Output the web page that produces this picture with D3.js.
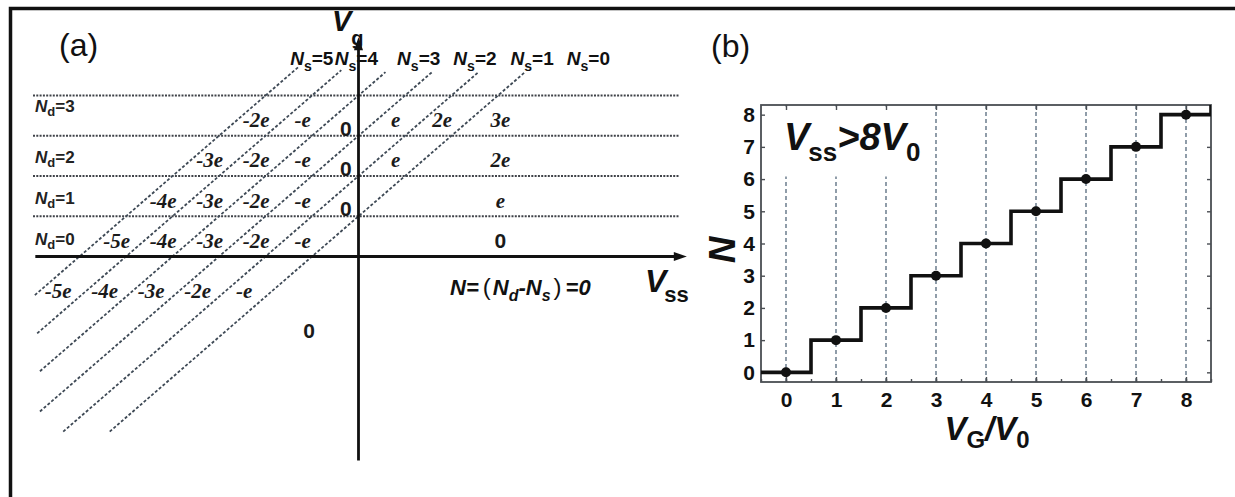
<!DOCTYPE html>
<html>
<head>
<meta charset="utf-8">
<script src="https://cdn.jsdelivr.net/npm/d3@7"></script>
<style>
  body { margin: 0; background: #fff; }
  svg { display: block; }
</style>
</head>
<body>
<svg id="fig" width="1235" height="497"></svg>
<script>
// ---------- Panel (a): charge states in the (Vss, Vg) plane ----------
// Source transition lines: Vg = Vss + k
const sourceLineK   = [1, 2, 3, 4, 5, 6];
const sourceLineLow = [-4.35, -4.35, -3.85, -2.85, -1.91, -0.96];   // lower Vg end of each line
const sourceLineHigh = [4.58, 4.58, 4.58, 4.58, 4.63, 4.71];        // upper Vg end of each line
// Drain transition levels (horizontal lines, Vg)
const drainLevels = [1, 2, 3, 4];
// Drain occupations labelled on the left, source occupations labelled on top
const ndValues = [3, 2, 1, 0];
const nsValues = [5, 4, 3, 2, 1, 0];

// ---------- Panel (b): staircase N vs VG/V0 ----------
const vgRatio = [0, 1, 2, 3, 4, 5, 6, 7, 8];
const electronN = [0, 1, 2, 3, 4, 5, 6, 7, 8];
const xTickValuesB = [0, 1, 2, 3, 4, 5, 6, 7, 8];
const yTickValuesB = [0, 1, 2, 3, 4, 5, 6, 7, 8];

const svg = d3.select("#fig");
const SANS = "'Liberation Sans', Arial, sans-serif";
const SERIF = "'Liberation Serif', 'Times New Roman', serif";
const INK = "#111";

svg.append("rect").attr("width", 1235).attr("height", 497).attr("fill", "#fff");

// outer frame (top and left edges)
svg.append("path")
  .attr("d", "M10.5,497 V8.5 H1235")
  .attr("fill", "none").attr("stroke", "#111").attr("stroke-width", 3.5);

// ===================== Panel (a) =====================
const xA = d3.scaleLinear().domain([0, 1]).range([358.5, 405]);
const yA = d3.scaleLinear().domain([0, 1]).range([256.5, 216.25]);
const gA = svg.append("g");

// drain levels (dotted horizontal lines)
gA.selectAll("line.nd").data(drainLevels).join("line")
  .attr("x1", xA(-7.0)).attr("x2", xA(6.91))
  .attr("y1", d => yA(d)).attr("y2", d => yA(d))
  .attr("stroke", "#3f4248").attr("stroke-width", 1.9)
  .attr("stroke-dasharray", "2,1.3");

// source lines (dashed diagonals)
gA.selectAll("line.ns").data(sourceLineK).join("line")
  .attr("x1", (k, i) => xA(sourceLineLow[i] - k)).attr("y1", (k, i) => yA(sourceLineLow[i]))
  .attr("x2", (k, i) => xA(sourceLineHigh[i] - k)).attr("y2", (k, i) => yA(sourceLineHigh[i]))
  .attr("stroke", "#3e4955").attr("stroke-width", 1.8)
  .attr("stroke-dasharray", "3,2");

// axes with arrows
gA.append("line")
  .attr("x1", xA(-6.95)).attr("x2", xA(6.95)).attr("y1", yA(0)).attr("y2", yA(0))
  .attr("stroke", INK).attr("stroke-width", 2.8);
gA.append("line")
  .attr("x1", xA(0)).attr("x2", xA(0)).attr("y1", yA(-5.07)).attr("y2", yA(5.3))
  .attr("stroke", INK).attr("stroke-width", 2.8);
{
  const tx = xA(7.06), ty = yA(0);
  gA.append("path").attr("d", `M${tx},${ty} L${tx - 13},${ty - 4.5} L${tx - 13},${ty + 4.5} Z`).attr("fill", INK);
  const vx = xA(0), vy = yA(5.45);
  gA.append("path").attr("d", `M${vx},${vy} L${vx - 4.5},${vy + 13} L${vx + 4.5},${vy + 13} Z`).attr("fill", INK);
}

// axis names
const vgLab = gA.append("text").attr("x", 332).attr("y", 31)
  .attr("font-family", SANS).attr("font-weight", "bold").attr("fill", INK);
vgLab.append("tspan").attr("font-size", 29).attr("font-style", "italic").text("V");
vgLab.append("tspan").attr("font-size", 20).attr("dy", 14).text("g");

const vssLab = gA.append("text").attr("x", 645).attr("y", 292)
  .attr("font-family", SANS).attr("font-weight", "bold").attr("fill", INK);
vssLab.append("tspan").attr("font-size", 32).attr("font-style", "italic").text("V");
vssLab.append("tspan").attr("font-size", 22).attr("dx", -2).attr("dy", 10).text("ss");

// panel tag
gA.append("text").attr("x", 59).attr("y", 56)
  .attr("font-family", SANS).attr("font-size", 32).attr("fill", INK).text("(a)");

// source occupation labels along the top
const nsLabelX = [-1.47, -0.51, 0.83, 2.04, 3.27, 4.48];
nsValues.forEach((ns, i) => {
  const t = gA.append("text").attr("x", xA(nsLabelX[i])).attr("y", 65)
    .attr("font-family", SANS).attr("font-weight", "bold").attr("fill", INK);
  t.append("tspan").attr("font-size", 19).attr("font-style", "italic").text("N");
  t.append("tspan").attr("font-size", 14).attr("dy", 6).text("s");
  t.append("tspan").attr("font-size", 19).attr("dy", -6).text("=" + ns);
});

// drain occupation labels on the left
const ndLabelBaseline = [112, 163, 204, 245];
ndValues.forEach((nd, i) => {
  const t = gA.append("text").attr("x", 35).attr("y", ndLabelBaseline[i])
    .attr("font-family", SANS).attr("font-weight", "bold").attr("fill", "#222");
  t.append("tspan").attr("font-size", 17).attr("font-style", "italic").text("N");
  t.append("tspan").attr("font-size", 13).attr("dy", 4).text("d");
  t.append("tspan").attr("font-size", 17).attr("dy", -4).text("=" + nd);
});

// net charge N = Nd - Ns in every region
function chargeText(n) {
  if (n === 0) return "0";
  if (n === 1) return "e";
  if (n === -1) return "-e";
  return n + "e";
}
const rows = [
  { nd: 3, vg: 3.4 }, { nd: 2, vg: 2.4 }, { nd: 1, vg: 1.4 }, { nd: 0, vg: 0.4 }, { nd: 0, vg: -0.86 }
];
rows.forEach(r => {
  nsValues.forEach(ns => {
    const n = r.nd - ns;
    let vx, vy;
    if (ns === 0) {
      if (r.vg < 0) { vx = -1.06; vy = -1.83; } else { vx = 3.05; vy = r.vg; }
    } else if (ns === r.nd) {
      vx = -0.27; vy = r.nd + 0.18;
    } else {
      vx = r.vg - ns - 0.6; vy = r.vg;
    }
    const isZero = n === 0;
    gA.append("text")
      .attr("x", xA(vx)).attr("y", yA(vy))
      .attr("text-anchor", "middle").attr("dy", "0.35em")
      .attr("font-family", isZero ? SANS : SERIF)
      .attr("font-weight", "bold")
      .attr("font-style", isZero ? "normal" : "italic")
      .attr("font-size", 21)
      .attr("fill", "#1a1a1a")
      .text(chargeText(n));
  });
});

// neutral-region formula
const formula = gA.append("text").attr("x", 450).attr("y", 295)
  .attr("font-family", SANS).attr("font-weight", "bold").attr("font-style", "italic")
  .attr("font-size", 22).attr("fill", INK);
formula.append("tspan").text("N=");
formula.append("tspan").attr("dx", 4).attr("font-style", "normal").attr("font-weight", "normal")
  .attr("font-size", 24).text("(");
formula.append("tspan").attr("dx", 2).text("N");
formula.append("tspan").attr("font-size", 16).attr("dy", 6).text("d");
formula.append("tspan").attr("dy", -6).text("-N");
formula.append("tspan").attr("font-size", 16).attr("dy", 6).text("s");
formula.append("tspan").attr("dx", 3).attr("dy", -6).attr("font-style", "normal").attr("font-weight", "normal")
  .attr("font-size", 24).text(")");
formula.append("tspan").attr("dx", 4).text("=0");

// ===================== Panel (b) =====================
const xB = d3.scaleLinear().domain([-0.5, 8.5]).range([761, 1211]);
const yB = d3.scaleLinear().domain([-0.3, 8.3]).range([382, 105]);
const gB = svg.append("g");

gB.append("text").attr("x", 711).attr("y", 57)
  .attr("font-family", SANS).attr("font-size", 32).attr("fill", INK).text("(b)");

// dashed vertical guides at integer VG/V0
gB.selectAll("line.grid").data(xTickValuesB).join("line")
  .attr("x1", d => xB(d)).attr("x2", d => xB(d))
  .attr("y1", yB.range()[0]).attr("y2", yB.range()[1])
  .attr("stroke", "#55697c").attr("stroke-width", 1.3)
  .attr("stroke-dasharray", "4,3");

// white box behind the condition label
gB.append("rect").attr("x", 768).attr("y", 106.5).attr("width", 160).attr("height", 70).attr("fill", "#fff");

// frame
gB.append("rect").attr("x", 761).attr("y", 105).attr("width", 450).attr("height", 277)
  .attr("fill", "none").attr("stroke", "#4a4e53").attr("stroke-width", 1.8);

// ticks on all four sides, labels on bottom and left
function styleAxis(g, labelled) {
  g.select(".domain").remove();
  g.selectAll(".tick line").attr("stroke", "#4a4e53").attr("stroke-width", 1.4);
  g.selectAll(".tick text").attr("font-family", SANS).attr("font-weight", "bold")
    .attr("font-size", 21).attr("fill", INK);
  if (!labelled) g.selectAll(".tick text").remove();
}
const halfTicks = d3.range(-0.5, 8.51, 0.5);
gB.append("g").attr("transform", `translate(0,${yB.range()[0]})`)
  .call(d3.axisBottom(xB).tickValues(xTickValuesB).tickSize(-5).tickPadding(10))
  .call(g => styleAxis(g, true));
gB.append("g").attr("transform", `translate(0,${yB.range()[0]})`)
  .call(d3.axisBottom(xB).tickValues(halfTicks).tickSize(-3))
  .call(g => styleAxis(g, false));
gB.append("g").attr("transform", `translate(0,${yB.range()[1]})`)
  .call(d3.axisTop(xB).tickValues(xTickValuesB).tickSize(-5))
  .call(g => styleAxis(g, false));
gB.append("g").attr("transform", `translate(${xB.range()[0]},0)`)
  .call(d3.axisLeft(yB).tickValues(yTickValuesB).tickSize(-4).tickPadding(6))
  .call(g => styleAxis(g, true));
gB.append("g").attr("transform", `translate(${xB.range()[1]},0)`)
  .call(d3.axisRight(yB).tickValues(yTickValuesB).tickSize(-4))
  .call(g => styleAxis(g, false));

// condition label
const cond = gB.append("text").attr("x", 784).attr("y", 150)
  .attr("font-family", SANS).attr("font-weight", "bold").attr("fill", INK);
cond.append("tspan").attr("font-size", 38).attr("font-style", "italic").text("V");
cond.append("tspan").attr("font-size", 26).attr("dx", -1).attr("dy", 11).text("ss");
cond.append("tspan").attr("font-size", 38).attr("font-style", "italic").attr("dy", -11).text(">8V");
cond.append("tspan").attr("font-size", 26).attr("dy", 11).text("0");

// staircase
gB.append("clipPath").attr("id", "clipB").append("rect")
  .attr("x", 761).attr("y", 105).attr("width", 450).attr("height", 277);
const stairPts = [];
vgRatio.forEach((v, i) => {
  stairPts.push([v - 0.5, electronN[i]]);
  stairPts.push([v + 0.5, electronN[i]]);
});
stairPts.push([vgRatio[vgRatio.length - 1] + 0.5, yB.domain()[1] + 1]);
gB.append("path")
  .attr("clip-path", "url(#clipB)")
  .attr("d", d3.line().x(d => xB(d[0])).y(d => yB(d[1]))(stairPts))
  .attr("fill", "none").attr("stroke", INK).attr("stroke-width", 3.6)
  .attr("stroke-linejoin", "miter");
gB.selectAll("circle.pt").data(vgRatio).join("circle")
  .attr("cx", d => xB(d)).attr("cy", (d, i) => yB(electronN[i]))
  .attr("r", 5).attr("fill", INK);

// axis titles
gB.append("text")
  .attr("transform", "translate(735,250) rotate(-90)")
  .attr("text-anchor", "middle")
  .attr("font-family", SANS).attr("font-weight", "bold").attr("font-style", "italic")
  .attr("font-size", 37).attr("fill", INK).text("N");

const xt = gB.append("text").attr("x", 987).attr("y", 440).attr("text-anchor", "middle")
  .attr("font-family", SANS).attr("font-weight", "bold").attr("fill", INK);
xt.append("tspan").attr("font-size", 33).attr("font-style", "italic").text("V");
xt.append("tspan").attr("font-size", 24).attr("dy", 8).text("G");
xt.append("tspan").attr("font-size", 33).attr("font-style", "italic").attr("dy", -8).text("/V");
xt.append("tspan").attr("font-size", 24).attr("dy", 8).text("0");
</script>
</body>
</html>
